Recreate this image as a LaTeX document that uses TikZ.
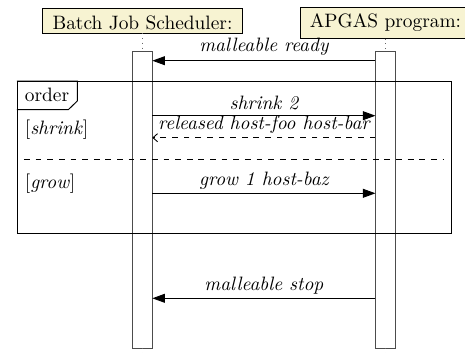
\documentclass[tikz,border=0pt]{standalone}
\usetikzlibrary{arrows.meta,calc}
\newcommand\upx{0.516pt}
\definecolor{boxfill}{RGB}{247,243,210}
\begin{document}
\begin{tikzpicture}[x=0.516pt,y=-0.516pt,
  actor/.style={draw, line width=0.4pt, fill=boxfill, inner xsep=5pt, inner ysep=0pt, outer sep=0pt},
  actbar/.style={draw=black!70, line width=0.5pt, inner sep=0pt, outer sep=0pt, minimum width=19.8*\upx, minimum height=297*\upx, anchor=north},
  lifeline/.style={dotted, black!60, line width=0.5pt},
  msg/.style={line width=0.5pt, -{Triangle[length=6.5pt,width=4.6pt]}},
  retmsg/.style={line width=0.45pt, dashed, -{Straight Barb[length=2.4pt,width=4.2pt]}},
  lbl/.style={font=\itshape, inner sep=0pt, anchor=base},
  guard/.style={inner sep=0pt, anchor=base west},
  frm/.style={draw, line width=0.5pt, inner sep=0pt, outer sep=0pt, anchor=north west, minimum width=434*\upx, minimum height=152*\upx}]
\useasboundingbox (0,0) rectangle (465,353);

% actors
\node[actor, text height=10.6pt, text depth=2.06pt] (bjs) at (142.5,8.5) [anchor=north] {Batch Job Scheduler:};
\node[actor, text height=10.3pt, text depth=5.6pt] (apg) at (385.5,7.7) [anchor=north] {APGAS program:};

% activation bars
\node[actbar] (barA) at (142.4,51) {};
\node[actbar] (barB) at (385.4,51) {};

% lifelines
\draw[lifeline] (bjs.south -| barA.north) -- (barA.north);
\draw[lifeline] (apg.south -| barB.north) -- (barB.north);
\coordinate (endA) at ($(barA.south)+(0,6)$);
\coordinate (endB) at ($(barB.south)+(0,6)$);
\draw[lifeline] (barA.south) -- (endA);
\draw[lifeline] (barB.south) -- (endB);

% frame
\node[frm] (frame) at (17,81) {};
\draw[line width=0.5pt] (frame.north west) -| (77.3,101) -- (68.3,109.7) -- (frame.west |- 0,109.7);
\node[guard] (ordlbl) at (24.5,101.7) {order};
\node[guard] (g1) at (24.5,134.5) {[\textit{shrink}]};
\node[guard] (g2) at (24.5,188.3) {[\textit{grow}]};
\coordinate (sepL) at (24,159.7);
\coordinate (sepR) at (443,159.7);
\draw[line width=0.45pt, dashed] (sepL) -- (sepR);

% messages
\draw[msg] (barB.west |- 0,60.7) -- (barA.east |- 0,60.7)
  node[lbl, midway, yshift=8.7*\upx] {malleable ready};
\draw[msg] (barA.east |- 0,115.7) -- (barB.west |- 0,115.7)
  node[lbl, midway, yshift=5.7*\upx] {shrink 2};
\draw[retmsg] (barB.west |- 0,137.7) -- (barA.east |- 0,137.7)
  node[lbl, midway, yshift=7.7*\upx] {released host-foo host-bar};
\draw[msg] (barA.east |- 0,193.3) -- (barB.west |- 0,193.3)
  node[lbl, midway, yshift=8.3*\upx] {grow 1 host-baz};
\draw[msg] (barB.west |- 0,298.3) -- (barA.east |- 0,298.3)
  node[lbl, midway, yshift=7.8*\upx] {malleable stop};
\end{tikzpicture}
\end{document}
